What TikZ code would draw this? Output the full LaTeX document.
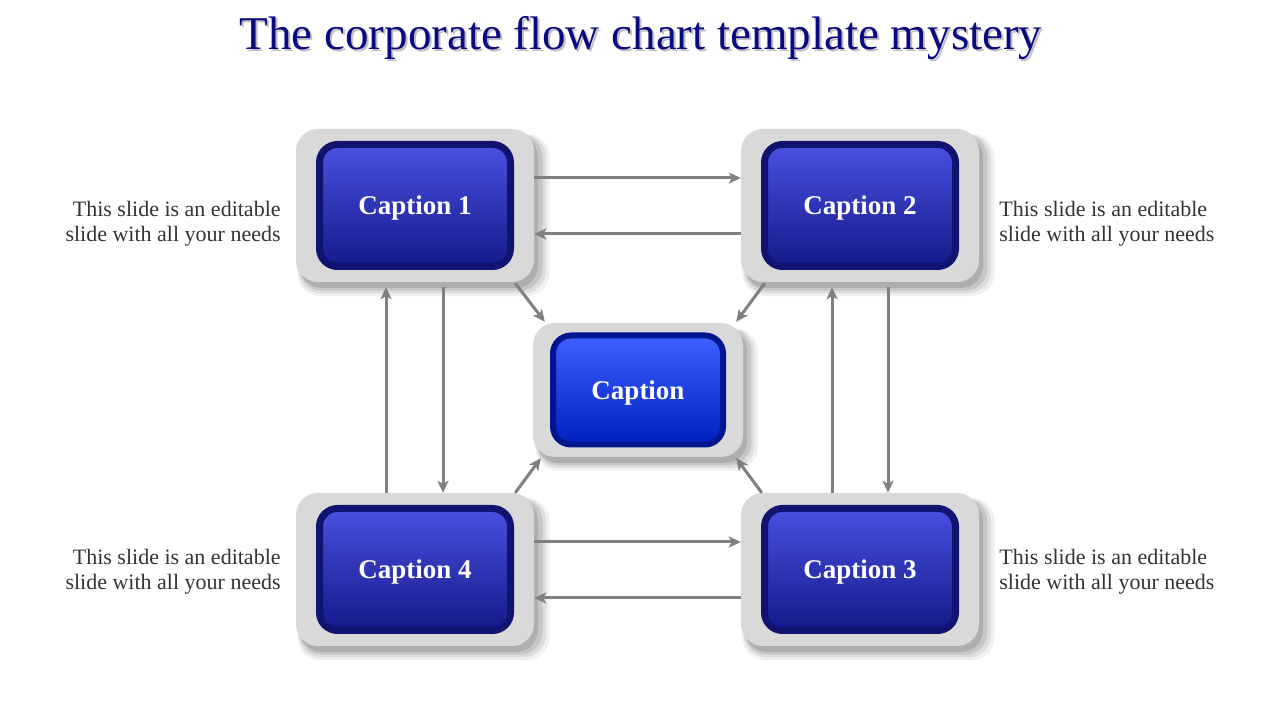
\documentclass[tikz,border=0pt]{standalone}
\usepackage{fontspec}
\setmainfont{Liberation Serif}
\usepackage{xcolor}
\definecolor{boxGray}{HTML}{D9D9D9}
\definecolor{capBorder}{HTML}{10136F}
\definecolor{capTop}{HTML}{4A50E0}
\definecolor{capBottom}{HTML}{14198A}
\definecolor{midBorder}{HTML}{00168F}
\definecolor{midTop}{HTML}{3E60FF}
\definecolor{midBottom}{HTML}{0020C0}
\definecolor{titleBlue}{HTML}{0A0A80}
\definecolor{flowGray}{HTML}{808080}
\definecolor{descText}{HTML}{333333}
\usepackage{tikz}
\usetikzlibrary{shapes}
\usetikzlibrary{arrows.meta}
\usetikzlibrary{shadows}
\usetikzlibrary{positioning}
\tikzstyle{outer} = [rectangle, rounded corners=22pt, fill=boxGray,
        minimum width=238pt, minimum height=153pt, inner sep=0pt,
        drop shadow={shadow xshift=8pt, shadow yshift=-9pt, shadow scale=1.06, opacity=0.06, fill=black},
        drop shadow={shadow xshift=7pt, shadow yshift=-8pt, shadow scale=1.04, opacity=0.08, fill=black},
        drop shadow={shadow xshift=6pt, shadow yshift=-7pt, shadow scale=1.02, opacity=0.10, fill=black},
        drop shadow={shadow xshift=4pt, shadow yshift=-6pt, opacity=0.12, fill=black}]
\tikzstyle{caption} = [rectangle, rounded corners=18pt, draw=capBorder, line width=7pt,
        top color=capTop, bottom color=capBottom,
        minimum width=191pt, minimum height=122pt, inner sep=0pt, text depth=0pt,
        text=white, font={\fontsize{27}{30}\selectfont\bfseries}]
\tikzstyle{midouter} = [outer, minimum width=210pt, minimum height=134pt]
\tikzstyle{midcaption} = [caption, draw=midBorder, top color=midTop, bottom color=midBottom,
        minimum width=170pt, minimum height=109pt, line width=6pt]
\tikzstyle{desc} = [font={\fontsize{22}{25}\selectfont}, text=descText, inner sep=0pt]
\tikzstyle{flow} = [-{Stealth[length=12pt, width=11pt, inset=3pt]}, draw=flowGray, line width=3pt]

\begin{document}
\begin{tikzpicture}[x=1pt, y=1pt, node distance=15pt]
    \useasboundingbox (0,0) rectangle (1280,720);
    % title
    \node [font={\fontsize{47}{50}\selectfont}, text=black!25] (titleshadow) at (643,680) {The corporate flow chart template mystery};
    \node [font={\fontsize{47}{50}\selectfont}, text=titleBlue] (title) at (641,682) {The corporate flow chart template mystery};

    % boxes
    \node [outer] (box1) at (415,514.5) {};
    \node [caption] (cap1) at (box1) {Caption 1};
    \node [outer] (box2) at (860,514.5) {};
    \node [caption] (cap2) at (box2) {Caption 2};
    \node [outer] (box3) at (860,150.5) {};
    \node [caption] (cap3) at (box3) {Caption 3};
    \node [outer] (box4) at (415,150.5) {};
    \node [caption] (cap4) at (box4) {Caption 4};
    \node [midouter] (mid) at (638,330) {};
    \node [midcaption] (capmid) at (mid) {Caption};

    % side texts
    \node [desc, align=right, left=15pt of box1, yshift=-18pt] (desc1) {This slide is an editable\\slide with all your needs};
    \node [desc, align=left, right=20pt of box2, yshift=-18pt] (desc2) {This slide is an editable\\slide with all your needs};
    \node [desc, align=left, right=20pt of box3, yshift=-2pt] (desc3) {This slide is an editable\\slide with all your needs};
    \node [desc, align=right, left=15pt of box4, yshift=-2pt] (desc4) {This slide is an editable\\slide with all your needs};

    % horizontal arrows
    \draw [flow] ([yshift=27.5pt]box1.east) -- ([yshift=27.5pt]box2.west);
    \draw [flow] ([yshift=-28.5pt]box2.west) -- ([yshift=-28.5pt]box1.east);
    \draw [flow] ([yshift=27.5pt]box4.east) -- ([yshift=27.5pt]box3.west);
    \draw [flow] ([yshift=-28.5pt]box3.west) -- ([yshift=-28.5pt]box4.east);

    % vertical arrows
    \draw [flow] ([xshift=-29pt]box4.north) -- ([xshift=-29pt, yshift=-5pt]box1.south);
    \draw [flow] ([xshift=28pt, yshift=-5pt]box1.south) -- ([xshift=28pt]box4.north);
    \draw [flow] ([xshift=-28pt]box3.north) -- ([xshift=-28pt, yshift=-5pt]box2.south);
    \draw [flow] ([xshift=28pt, yshift=-5pt]box2.south) -- ([xshift=28pt]box3.north);

    % diagonal arrows to the middle
    \draw [flow] ([xshift=-19pt, yshift=-1pt]box1.south east) -- ([xshift=12pt, yshift=1pt]mid.north west);
    \draw [flow] ([xshift=24pt, yshift=-1pt]box2.south west) -- ([xshift=-7pt, yshift=1pt]mid.north east);
    \draw [flow] ([xshift=-19pt]box4.north east) -- ([xshift=8pt, yshift=-1pt]mid.south west);
    \draw [flow] ([xshift=21pt]box3.north west) -- ([xshift=-7pt, yshift=-1pt]mid.south east);
\end{tikzpicture}
\end{document}
